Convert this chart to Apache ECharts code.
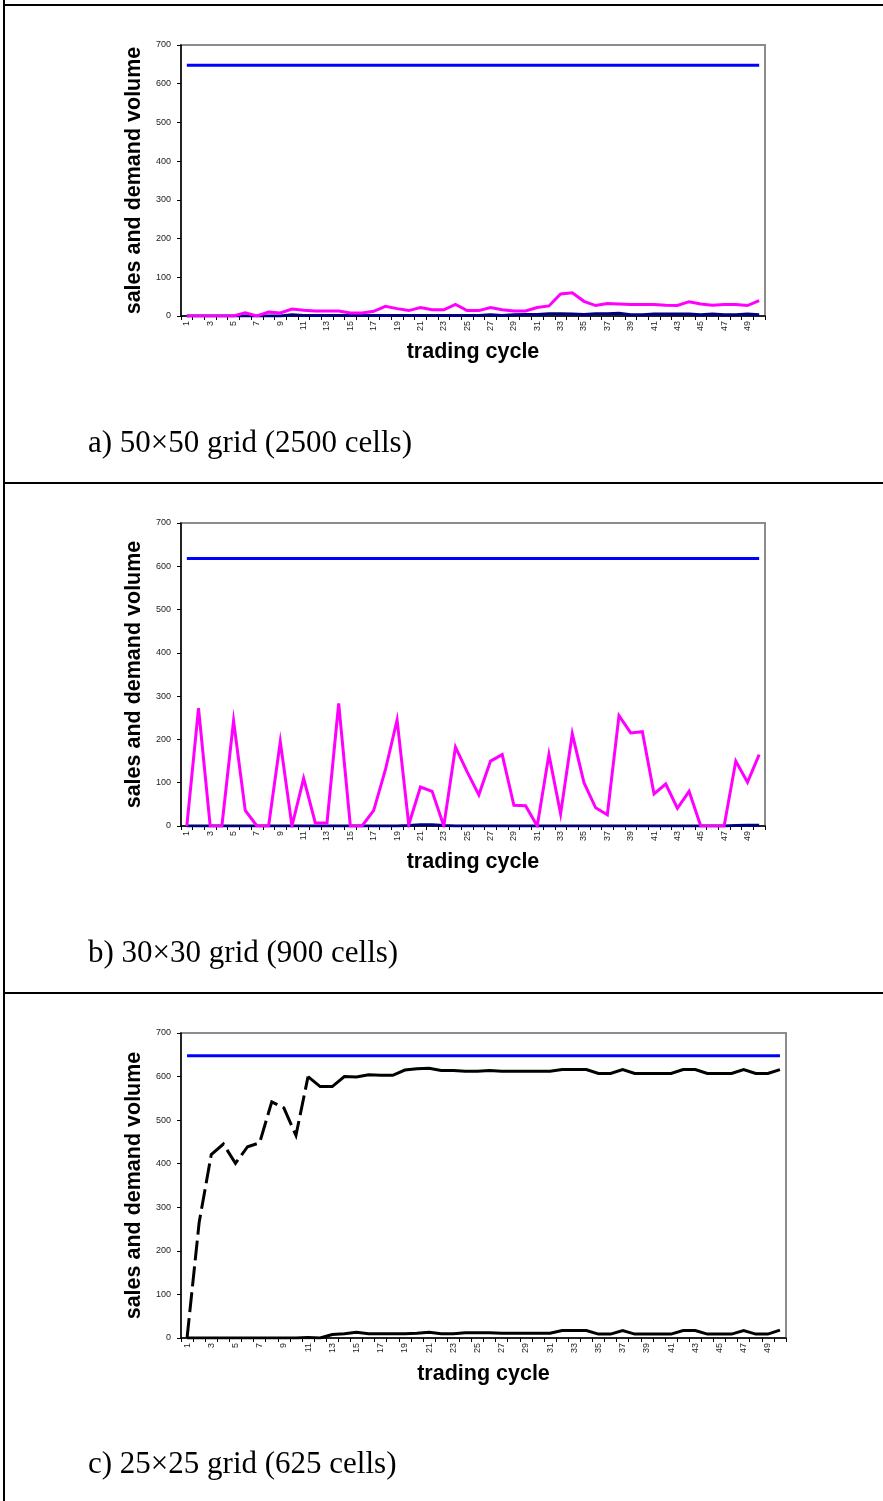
<!DOCTYPE html>
<html>
<head>
<meta charset="utf-8">
<script src="https://cdn.jsdelivr.net/npm/echarts@6/dist/echarts.min.js"></script>
<style>
html,body{margin:0;padding:0;background:#fff;}
#c{width:883px;height:1501px;}
</style>
</head>
<body>
<div id="c"></div>
<script>
// ---------- data ----------
const categories = ['1','2','3','4','5','6','7','8','9','10','11','12','13','14','15','16','17','18','19','20','21','22','23','24','25','26','27','28','29','30','31','32','33','34','35','36','37','38','39','40','41','42','43','44','45','46','47','48','49','50'];
const yTicks = [0,100,200,300,400,500,600,700];

// panel a) 50x50 grid
const aDemand = [648,648,648,648,648,648,648,648,648,648,648,648,648,648,648,648,648,648,648,648,648,648,648,648,648,648,648,648,648,648,648,648,648,648,648,648,648,648,648,648,648,648,648,648,648,648,648,648,648,648];
const aSales  = [0,0,0,0,0,8,0,10,8,18,15,13,13,13,8,8,12,25,19,14,22,16,16,30,14,14,22,16,13,13,22,26,57,60,38,27,32,31,30,30,30,28,27,37,31,28,30,30,27,40];
const aOther  = [0,0,0,0,0,0,0,0,0,3,1,1,1,1,1,1,1,1,1,1,1,1,1,1,1,1,3,1,3,4,4,6,6,5,4,6,6,7,3,3,5,5,5,5,3,5,3,3,5,3];

// panel b) 30x30 grid
const bDemand = [618,618,618,618,618,618,618,618,618,618,618,618,618,618,618,618,618,618,618,618,618,618,618,618,618,618,618,618,618,618,618,618,618,618,618,618,618,618,618,618,618,618,618,618,618,618,618,618,618,618];
const bSales  = [0,272,0,0,243,36,0,0,195,0,110,7,7,283,0,0,36,130,245,3,90,80,0,182,125,72,150,165,48,47,0,165,28,213,100,42,26,255,215,218,74,97,41,80,0,0,0,150,101,165];
const bOther  = [0,0,0,0,0,0,0,0,0,0,0,0,0,0,0,0,0,0,0,1,3,3,1,0,0,0,0,0,0,0,0,0,0,0,0,0,0,0,0,0,0,0,0,0,0,0,0,1,2,2];

// panel c) 25x25 grid
const cDemand = [648,648,648,648,648,648,648,648,648,648,648,648,648,648,648,648,648,648,648,648,648,648,648,648,648,648,648,648,648,648,648,648,648,648,648,648,648,648,648,648,648,648,648,648,648,648,648,648,648,648];
const cUpper  = [0,265,421,445,401,439,448,542,528,465,600,577,577,600,599,604,603,603,615,618,619,614,614,612,612,614,612,612,612,612,612,616,616,616,607,607,616,607,607,607,607,616,616,607,607,607,616,607,607,616];
const cLower  = [0,0,0,0,0,0,0,0,0,0,1,0,8,10,13,10,10,10,10,11,13,10,10,12,12,12,11,11,11,11,11,17,17,17,9,9,17,9,9,9,9,17,17,9,9,9,17,9,9,18];
const cDashedUntil = 11; // cycles 1..11 drawn dashed

const captions = ['a) 50\u00d750 grid (2500 cells)','b) 30\u00d730 grid (900 cells)','c) 25\u00d725 grid (625 cells)'];
const xName = 'trading cycle';
const yName = 'sales and demand volume';

// ---------- layout ----------
const grids = [
  {left:181, top:45,   width:584, height:271},
  {left:181, top:523,  width:584, height:303},
  {left:181, top:1033, width:605, height:305}
];
const captionY = [445, 955, 1466];

const chart = echarts.init(document.getElementById('c'), null, {renderer:'canvas'});

function mkX(i){
  return {
    type:'category', gridIndex:i, data:categories, boundaryGap:true,
    name:xName, nameLocation:'middle', nameGap:25,
    nameTextStyle:{fontFamily:'Liberation Sans', fontWeight:'bold', fontSize:21.5, color:'#000'},
    axisLine:{show:true, lineStyle:{color:'#000', width:1.5}},
    axisTick:{show:true, alignWithLabel:false, interval:0, length:4, lineStyle:{color:'#000', width:1}},
    axisLabel:{interval:1, rotate:90, fontFamily:'Liberation Sans', fontSize:9, color:'#222', margin:5},
    splitLine:{show:false}
  };
}
function mkY(i){
  return {
    type:'value', gridIndex:i, min:yTicks[0], max:yTicks[yTicks.length-1], interval:100,
    name:yName, nameLocation:'middle', nameGap:31,
    nameTextStyle:{fontFamily:'Liberation Sans', fontWeight:'bold', fontSize:21.5, color:'#000'},
    axisLine:{show:true, lineStyle:{color:'#000', width:1.5}},
    axisTick:{show:true, length:4, lineStyle:{color:'#000', width:1}},
    axisLabel:{fontFamily:'Liberation Sans', fontSize:9, color:'#222', margin:10},
    splitLine:{show:false}
  };
}
function line(i, data, color, type){
  return {
    type:'line', xAxisIndex:i, yAxisIndex:i, data:data,
    showSymbol:false, symbol:'none', smooth:false, connectNulls:false,
    lineStyle:{color:color, width:3, type:type||'solid', cap:'butt', join:'miter'},
    emphasis:{disabled:true}, silent:true
  };
}

const cDashed = cUpper.map((v,k)=> k < cDashedUntil ? v : null);
const cSolid  = cUpper.map((v,k)=> k >= cDashedUntil-1 ? v : null);

const borders = [
  {type:'line', shape:{x1:4, y1:0, x2:4, y2:1501}},
  {type:'line', shape:{x1:3, y1:5, x2:883, y2:5}},
  {type:'line', shape:{x1:3, y1:483, x2:883, y2:483}},
  {type:'line', shape:{x1:3, y1:993, x2:883, y2:993}}
].map(g=>Object.assign(g,{style:{stroke:'#000', lineWidth:2}, silent:true}));

const capTexts = captions.map((t,i)=>({
  type:'text', left:88, top:captionY[i]-17, silent:true,
  style:{text:t, fontFamily:'Liberation Serif', fontSize:31, fill:'#000'}
}));

chart.setOption({
  animation:false,
  backgroundColor:'#fff',
  grid: grids.map(g=>Object.assign({show:true, borderColor:'#8c8c8c', borderWidth:2, backgroundColor:'transparent', containLabel:false}, g)),
  xAxis:[mkX(0), mkX(1), mkX(2)],
  yAxis:[mkY(0), mkY(1), mkY(2)],
  series:[
    line(0, aOther, '#000080'),
    line(0, aSales, '#ff00ff'),
    line(0, aDemand, '#0000ff'),
    line(1, bOther, '#000080'),
    line(1, bSales, '#ff00ff'),
    line(1, bDemand, '#0000ff'),
    line(2, cLower, '#000000'),
    line(2, cDashed, '#000000', [20,6]),
    line(2, cSolid, '#000000'),
    line(2, cDemand, '#0000ff')
  ],
  graphic: borders.concat(capTexts)
});
</script>
</body>
</html>
